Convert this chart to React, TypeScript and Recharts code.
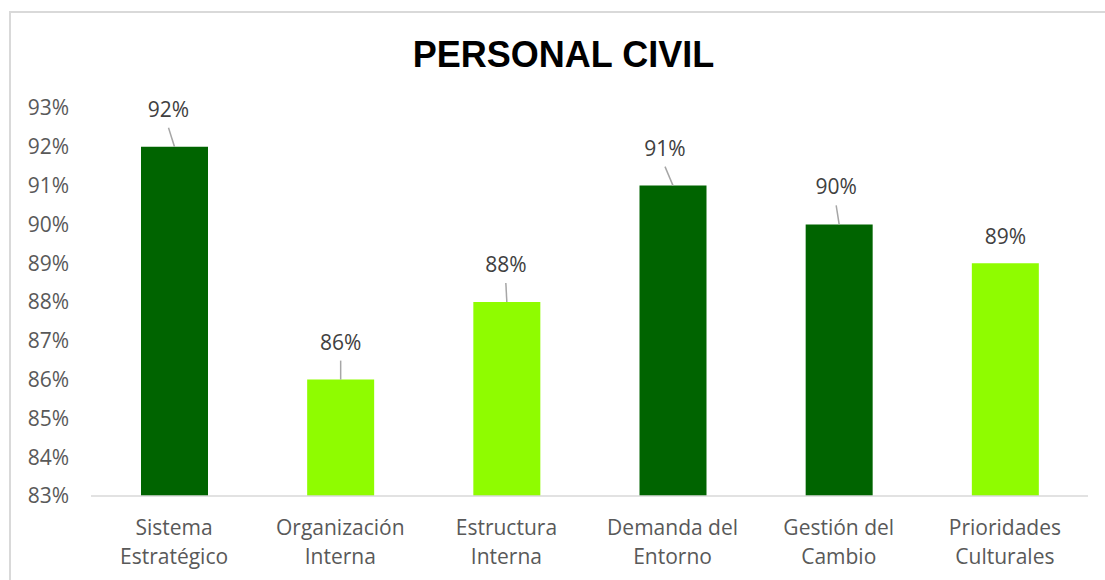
import { BarChart, Bar, XAxis, YAxis, Cell, LabelList } from 'recharts'

const categories = [
  'Sistema Estratégico',
  'Organización Interna',
  'Estructura Interna',
  'Demanda del Entorno',
  'Gestión del Cambio',
  'Prioridades Culturales',
]
// how each category label wraps onto two lines
const categoryLines = [
  ['Sistema', 'Estratégico'],
  ['Organización', 'Interna'],
  ['Estructura', 'Interna'],
  ['Demanda del', 'Entorno'],
  ['Gestión del', 'Cambio'],
  ['Prioridades', 'Culturales'],
]
const values = [92, 86, 88, 91, 90, 89]
const yTicks = [83, 84, 85, 86, 87, 88, 89, 90, 91, 92, 93]

const DARK = '#006400'
const LIGHT = '#8FFC00'
const barColors = [DARK, LIGHT, LIGHT, DARK, DARK, LIGHT]

// label x-shift vs bar centre; null = label without leader line
const leaderShift: (number | null)[] = [-6, 0, -1, -8, -3, null]

const font = '"Open Sans", sans-serif'

const data = categories.map((c, i) => ({ name: c, value: values[i], idx: i }))

function CategoryTick(props: any) {
  const { x, y, payload } = props
  const lines = categoryLines[payload.index] ?? [payload.value]
  return (
    <text x={x} y={y} textAnchor="middle" fill="#595959" fontSize={21} fontFamily={font}>
      {lines.map((l: string, i: number) => (
        <tspan key={i} x={x} y={y + 39 + i * 29}>
          {l}
        </tspan>
      ))}
    </text>
  )
}

function ValueLabel(props: any) {
  const { x, y, width, value, index } = props
  const cx = x + width / 2
  const shift = leaderShift[index]
  if (shift == null) {
    return (
      <text x={cx} y={y - 19} textAnchor="middle" fill="#404040" fontSize={21} fontFamily={font}>
        {value}%
      </text>
    )
  }
  return (
    <g>
      <line x1={cx + shift} y1={y - 19} x2={cx} y2={y} stroke="#a6a6a6" strokeWidth={1.5} />
      <text x={cx + shift} y={y - 30} textAnchor="middle" fill="#404040" fontSize={21} fontFamily={font}>
        {value}%
      </text>
    </g>
  )
}

export default function App() {
  return (
    <div style={{ position: 'absolute', left: 0, top: 0, width: 1105, height: 580, overflow: 'hidden', background: '#fff' }}>
      <div
        style={{
          position: 'absolute',
          left: 9,
          top: 11,
          width: 1100,
          height: 580,
          borderTop: '2px solid #d9d9d9',
          borderLeft: '2px solid #d9d9d9',
        }}
      />
      <div
        style={{
          position: 'absolute',
          left: 0,
          top: 37,
          width: 1127,
          textAlign: 'center',
          fontFamily: '"Liberation Sans", Arial, sans-serif',
          fontWeight: 'bold',
          fontSize: 36,
          lineHeight: '36px',
          color: '#000',
        }}
      >
        PERSONAL CIVIL
      </div>
      <div style={{ position: 'absolute', left: 0, top: 0 }}>
        <BarChart width={1105} height={580} data={data} margin={{ top: 108, right: 17, left: 0, bottom: 0 }}>
          <XAxis
            dataKey="name"
            height={84}
            interval={0}
            tickLine={false}
            tickSize={0}
            tickMargin={0}
            axisLine={{ stroke: '#d9d9d9', strokeWidth: 1.5 }}
            tick={<CategoryTick />}
          />
          <YAxis
            width={91}
            domain={[83, 93]}
            ticks={yTicks}
            allowDataOverflow
            axisLine={false}
            tickLine={false}
            tickSize={0}
            tickMargin={22}
            tickFormatter={(v: number) => `${v}%`}
            tick={{ fill: '#595959', fontSize: 21, fontFamily: font }}
          />
          <Bar dataKey="value" barSize={67} isAnimationActive={false}>
            {data.map((d, i) => (
              <Cell key={d.name} fill={barColors[i]} />
            ))}
            <LabelList dataKey="value" content={<ValueLabel />} />
          </Bar>
        </BarChart>
      </div>
    </div>
  )
}
